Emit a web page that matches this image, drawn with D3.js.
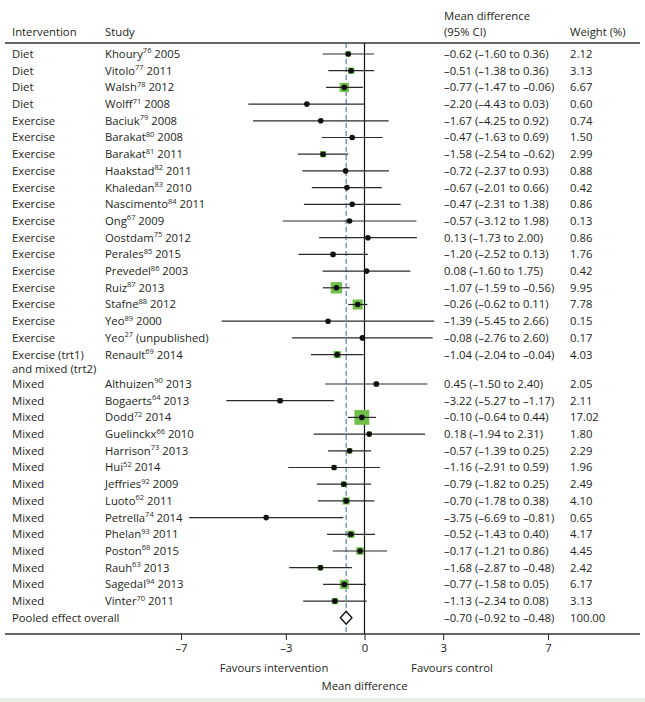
<!DOCTYPE html>
<html>
<head>
<meta charset="utf-8">
<script src="https://cdn.jsdelivr.net/npm/d3@7"></script>
<style>
  body { margin: 0; background: #fff; }
  text { font-family: "Open Sans", "Noto Sans", sans-serif; font-size: 11.3px; fill: #231f20; }
</style>
</head>
<body>
<div id="chart"></div>
<script>
// study rows, top to bottom
var interventions = ["Diet", "Diet", "Diet", "Diet",
  "Exercise", "Exercise", "Exercise", "Exercise", "Exercise", "Exercise", "Exercise", "Exercise",
  "Exercise", "Exercise", "Exercise", "Exercise", "Exercise", "Exercise", "Exercise (trt1)|and mixed (trt2)",
  "Mixed", "Mixed", "Mixed", "Mixed", "Mixed", "Mixed", "Mixed", "Mixed", "Mixed", "Mixed", "Mixed",
  "Mixed", "Mixed", "Mixed"];
var authors = ["Khoury", "Vitolo", "Walsh", "Wolff",
  "Baciuk", "Barakat", "Barakat", "Haakstad", "Khaledan", "Nascimento", "Ong", "Oostdam",
  "Perales", "Prevedel", "Ruiz", "Stafne", "Yeo", "Yeo", "Renault",
  "Althuizen", "Bogaerts", "Dodd", "Guelinckx", "Harrison", "Hui", "Jeffries", "Luoto", "Petrella",
  "Phelan", "Poston", "Rauh", "Sagedal", "Vinter"];
var refs = ["76", "77", "78", "71", "79", "80", "81", "82", "83", "84", "67", "75", "85", "86", "87", "88",
  "89", "27", "69", "90", "64", "72", "66", "73", "52", "92", "62", "74", "93", "68", "63", "94", "70"];
var years = ["2005", "2011", "2012", "2008", "2008", "2008", "2011", "2011", "2010", "2011", "2009", "2012",
  "2015", "2003", "2013", "2012", "2000", "(unpublished)", "2014", "2013", "2013", "2014", "2010", "2013",
  "2014", "2009", "2011", "2014", "2011", "2015", "2013", "2013", "2011"];
var means  = [-0.62, -0.51, -0.77, -2.20, -1.67, -0.47, -1.58, -0.72, -0.67, -0.47, -0.57, 0.13, -1.20, 0.08,
  -1.07, -0.26, -1.39, -0.08, -1.04, 0.45, -3.22, -0.10, 0.18, -0.57, -1.16, -0.79, -0.70, -3.75, -0.52,
  -0.17, -1.68, -0.77, -1.13];
var lowers = [-1.60, -1.38, -1.47, -4.43, -4.25, -1.63, -2.54, -2.37, -2.01, -2.31, -3.12, -1.73, -2.52, -1.60,
  -1.59, -0.62, -5.45, -2.76, -2.04, -1.50, -5.27, -0.64, -1.94, -1.39, -2.91, -1.82, -1.78, -6.69, -1.43,
  -1.21, -2.87, -1.58, -2.34];
var uppers = [0.36, 0.36, -0.06, 0.03, 0.92, 0.69, -0.62, 0.93, 0.66, 1.38, 1.98, 2.00, 0.13, 1.75,
  -0.56, 0.11, 2.66, 2.60, -0.04, 2.40, -1.17, 0.44, 2.31, 0.25, 0.59, 0.25, 0.38, -0.81, 0.40,
  0.86, -0.48, 0.05, 0.08];
var weights = [2.12, 3.13, 6.67, 0.60, 0.74, 1.50, 2.99, 0.88, 0.42, 0.86, 0.13, 0.86, 1.76, 0.42,
  9.95, 7.78, 0.15, 0.17, 4.03, 2.05, 2.11, 17.02, 1.80, 2.29, 1.96, 2.49, 4.10, 0.65, 4.17,
  4.45, 2.42, 6.17, 3.13];

var pooledMean = -0.70, pooledLower = -0.92, pooledUpper = -0.48, pooledWeight = 100.00;
var xTicks = [-7, -3, 0, 3, 7];

var width = 645, height = 702;
var svg = d3.select("#chart").append("svg").attr("width", width).attr("height", height);

// x scale: mean difference
var x = d3.scaleLinear().domain([-7, 7]).range([181, 548]);
// y scale: row slot -> pixel (extra gap after the two-line Renault row)
var y = d3.scaleLinear().domain([0, 1]).range([54, 70.7]);
var slot = function(i) { return i > 18 ? i + 0.76 : i; };
var pooledSlot = slot(interventions.length - 1) + 1;

var fmt = function(v) { return d3.format(".2f")(v).replace("-", "\u2013").replace("\u2212", "\u2013"); };

var lineTop = 43, axisY = 634;

// header
svg.append("text").attr("x", 12).attr("y", 32).attr("dy", "0.35em").text("Intervention");
svg.append("text").attr("x", 105).attr("y", 32).attr("dy", "0.35em").text("Study");
svg.append("text").attr("x", 444).attr("y", 16).attr("dy", "0.35em").text("Mean difference");
svg.append("text").attr("x", 444).attr("y", 32).attr("dy", "0.35em").text("(95% CI)");
svg.append("text").attr("x", 570).attr("y", 32).attr("dy", "0.35em").text("Weight (%)");
svg.append("line").attr("x1", 5).attr("x2", 640).attr("y1", lineTop).attr("y2", lineTop)
  .attr("stroke", "#333").attr("stroke-width", 1.3);

// reference lines
svg.append("line").attr("x1", x(0)).attr("x2", x(0)).attr("y1", lineTop).attr("y2", axisY)
  .attr("stroke", "#111").attr("stroke-width", 1.2);
svg.append("line").attr("x1", x(pooledMean)).attr("x2", x(pooledMean)).attr("y1", lineTop).attr("y2", axisY)
  .attr("stroke", "#4f72a8").attr("stroke-width", 1.1).attr("stroke-dasharray", "5,3");

var rows = d3.range(interventions.length);

// row text
var rowG = svg.selectAll("g.row").data(rows).enter().append("g").attr("class", "row");
rowG.each(function(i) {
  var g = d3.select(this), yy = y(slot(i));
  var parts = interventions[i].split("|");
  parts.forEach(function(p, k) {
    g.append("text").attr("x", 12).attr("y", yy + k * 14.5).attr("dy", "0.35em").text(p);
  });
  var t = g.append("text").attr("x", 105).attr("y", yy).attr("dy", "0.35em");
  t.append("tspan").text(authors[i]);
  t.append("tspan").attr("dy", -4.5).style("font-size", "7.5px").text(refs[i]);
  t.append("tspan").attr("dy", 4.5).text(" " + years[i]);
  g.append("text").attr("x", 444).attr("y", yy).attr("dy", "0.35em")
    .text(fmt(means[i]) + " (" + fmt(lowers[i]) + " to " + fmt(uppers[i]) + ")");
  g.append("text").attr("x", 570).attr("y", yy).attr("dy", "0.35em").text(d3.format(".2f")(weights[i]));
});

// weight squares
svg.selectAll("rect.w").data(rows).enter().append("rect").attr("class", "w")
  .attr("x", function(i) { return x(means[i]) - 1.8 * Math.sqrt(weights[i]); })
  .attr("y", function(i) { return y(slot(i)) - 1.8 * Math.sqrt(weights[i]); })
  .attr("width", function(i) { return 3.6 * Math.sqrt(weights[i]); })
  .attr("height", function(i) { return 3.6 * Math.sqrt(weights[i]); })
  .attr("fill", "#6fbf4a");

// CI lines
svg.selectAll("line.ci").data(rows).enter().append("line").attr("class", "ci")
  .attr("x1", function(i) { return x(lowers[i]); })
  .attr("x2", function(i) { return x(uppers[i]); })
  .attr("y1", function(i) { return y(slot(i)); })
  .attr("y2", function(i) { return y(slot(i)); })
  .attr("stroke", "#2b2b2b").attr("stroke-width", 1.2);

// point estimates
svg.selectAll("circle.pt").data(rows).enter().append("circle").attr("class", "pt")
  .attr("cx", function(i) { return x(means[i]); })
  .attr("cy", function(i) { return y(slot(i)); })
  .attr("r", 2.8).attr("fill", "#111");

// pooled
var py = y(pooledSlot);
svg.append("text").attr("x", 12).attr("y", py).attr("dy", "0.35em").text("Pooled effect overall");
svg.append("text").attr("x", 444).attr("y", py).attr("dy", "0.35em")
  .text(fmt(pooledMean) + " (" + fmt(pooledLower) + " to " + fmt(pooledUpper) + ")");
svg.append("text").attr("x", 570).attr("y", py).attr("dy", "0.35em").text(d3.format(".2f")(pooledWeight));
svg.append("path")
  .attr("d", "M" + x(pooledLower) + "," + py + "L" + x(pooledMean) + "," + (py - 6.5) +
    "L" + x(pooledUpper) + "," + py + "L" + x(pooledMean) + "," + (py + 6.5) + "Z")
  .attr("fill", "#fff").attr("stroke", "#111").attr("stroke-width", 1.4);

// axis
svg.append("line").attr("x1", 5).attr("x2", 640).attr("y1", axisY).attr("y2", axisY)
  .attr("stroke", "#333").attr("stroke-width", 1.3);
var xAxis = d3.axisBottom(x).tickValues(xTicks).tickSize(6).tickPadding(4)
  .tickFormat(function(d) { return String(d).replace("-", "\u2013"); });
var axG = svg.append("g").attr("transform", "translate(0," + axisY + ")").call(xAxis);
axG.select(".domain").remove();
axG.selectAll(".tick line").attr("stroke", "#333").attr("stroke-width", 1.1);
axG.selectAll(".tick text").style("font-size", "11.3px").attr("fill", "#231f20")
  .style("font-family", "'Open Sans', 'Noto Sans', sans-serif");

svg.append("text").attr("x", 274).attr("y", 668).attr("dy", "0.35em").attr("text-anchor", "middle")
  .text("Favours intervention");
svg.append("text").attr("x", 452).attr("y", 668).attr("dy", "0.35em").attr("text-anchor", "middle")
  .text("Favours control");
svg.append("text").attr("x", x(0)).attr("y", 686).attr("dy", "0.35em").attr("text-anchor", "middle")
  .text("Mean difference");

// bottom band
svg.append("rect").attr("x", 0).attr("y", 698).attr("width", width).attr("height", 4).attr("fill", "#e8eee2");
</script>
</body>
</html>
